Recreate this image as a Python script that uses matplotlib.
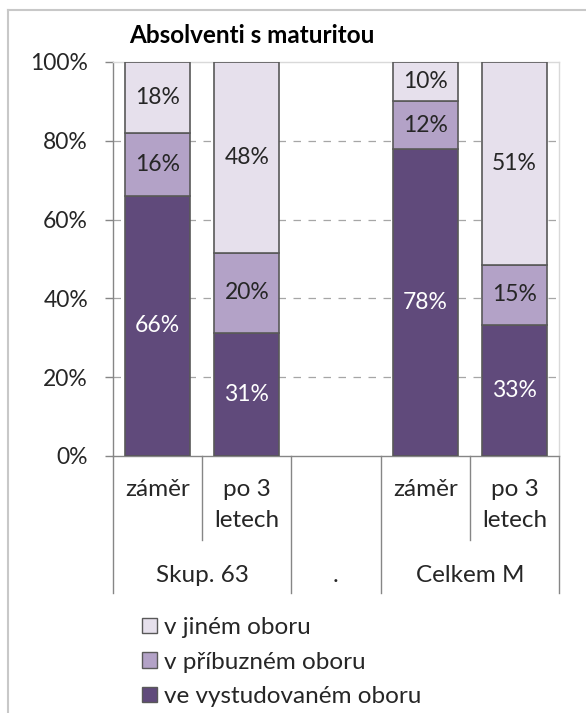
import matplotlib
matplotlib.use("Agg")
import matplotlib.pyplot as plt
from matplotlib.patches import Patch
from matplotlib.lines import Line2D
import numpy as np

plt.rcParams['font.family'] = ['Lato', 'DejaVu Sans']

# ---- data ----
title = "Absolventi s maturitou"
sub_labels = ["záměr", "po 3\nletech", "", "záměr", "po 3\nletech"]
group_labels = ["Skup. 63", ".", "Celkem M"]
group_spans = [(0, 1), (2, 2), (3, 4)]
series_names = ["ve vystudovaném oboru", "v příbuzném oboru", "v jiném oboru"]
vystudovany = [66, 31, np.nan, 78, 33]
pribuzny = [16, 20, np.nan, 12, 15]
jiny = [18, 48, np.nan, 10, 51]
colors = ["#604A7B", "#B3A2C7", "#E6E0EC"]
label_colors = ["white", "#262626", "#262626"]
yticks = [0, 20, 40, 60, 80, 100]

W, H = 586, 713
fig = plt.figure(figsize=(W / 100, H / 100), dpi=100)

ax_l, ax_r, ax_t, ax_b = 113, 559, 62, 456
ax = fig.add_axes([ax_l / W, 1 - ax_b / H, (ax_r - ax_l) / W, (ax_b - ax_t) / H])

raw = np.array([vystudovany, pribuzny, jiny], dtype=float)
valid = ~np.isnan(raw).all(axis=0)
tot = np.nansum(raw, axis=0)
x_all = np.arange(len(sub_labels))
xv = x_all[valid]
norm = raw[:, valid] / tot[valid] * 100
bottom = np.zeros(len(xv))
for i in range(3):
    h = norm[i]
    cont = ax.bar(xv, h, 0.73, bottom=bottom, color=colors[i], edgecolor="#595959",
                  linewidth=1.2, zorder=3)
    labs = [f"{int(round(v))}%" for v in raw[i][valid]]
    ax.bar_label(cont, labels=labs, label_type="center", color=label_colors[i],
                 fontsize=16.5, zorder=4)
    bottom += h

ax.set_xlim(-0.5, len(x_all) - 0.5)
ax.set_ylim(0, 100)
ax.set_yticks(yticks)
ax.set_yticklabels([f"{t}%" for t in yticks], fontsize=16.5, color="#262626")
ax.tick_params(axis="y", length=6, width=1, color="#868686", pad=12)
ax.set_xticks([])
for t in yticks[1:-1]:
    ax.axhline(t, color="#a6a6a6", linestyle=(0, (6, 6)), linewidth=0.9, zorder=1)
for s in ["top", "right"]:
    ax.spines[s].set_color("#d9d9d9")
    ax.spines[s].set_linewidth(1)
for s in ["left", "bottom"]:
    ax.spines[s].set_color("#868686")
    ax.spines[s].set_linewidth(1)

ph = ax_b - ax_t
def ay(py):
    return (ax_b - py) / ph

# category separators
trans = ax.get_xaxis_transform()
group_bounds = set()
for a, b in group_spans:
    group_bounds.add(a - 0.5)
    group_bounds.add(b + 0.5)
for k in range(len(x_all) + 1):
    xb = k - 0.5
    yend = ay(593) if xb in group_bounds else ay(540)
    ax.add_line(Line2D([xb, xb], [0, yend], transform=trans, color="#868686",
                       linewidth=1, clip_on=False))
for xi, lab in zip(x_all, sub_labels):
    ax.text(xi, ay(479), lab, transform=trans, ha="center", va="top",
            fontsize=17.5, color="#262626", linespacing=1.6)
for (a, b), lab in zip(group_spans, group_labels):
    ax.text((a + b) / 2, ay(575), lab, transform=trans, ha="center", va="center",
            fontsize=17.5, color="#262626")

# title
fig.text(252 / W, 1 - 43 / H, title, ha="center", va="baseline", fontsize=17.5,
         fontweight="bold", color="black")

# chart frame
fig.add_artist(Line2D([8 / W, 8 / W], [0, 1 - 10 / H], color="#c8c8c8", linewidth=1.5))
fig.add_artist(Line2D([8 / W, 1], [1 - 10 / H, 1 - 10 / H], color="#c8c8c8", linewidth=1.5))

# legend
handles = [Patch(facecolor=colors[i], edgecolor="#595959", linewidth=1.0,
                 label=series_names[i]) for i in [2, 1, 0]]
fig.legend(handles=handles, loc="upper left", bbox_to_anchor=(135 / W, 1 - 610 / H),
           frameon=False, fontsize=17.5, handlelength=0.6, handleheight=0.6,
           handletextpad=0.3, labelspacing=0.55, labelcolor="#262626",
           borderaxespad=0, borderpad=0.3)

fig.savefig("out.png", dpi=100)
